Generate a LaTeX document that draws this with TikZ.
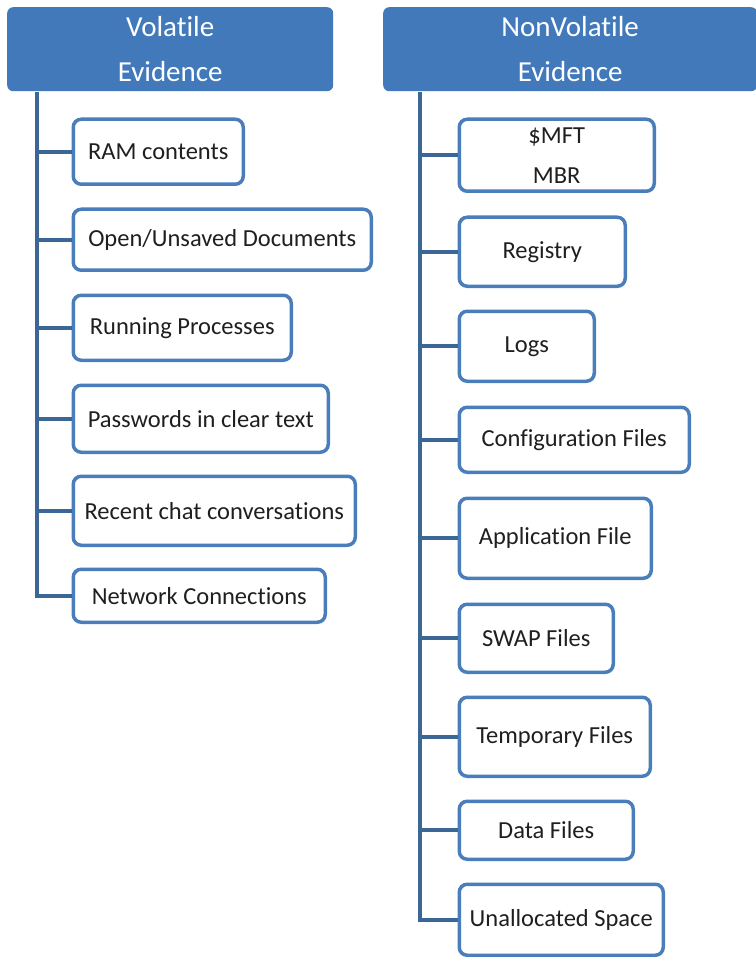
\documentclass[tikz,border=0pt]{standalone}
\usepackage{fontspec}
\setmainfont{Carlito}[Ligatures=NoCommon]
\definecolor{hdrblue}{HTML}{4279BA}
\definecolor{boxline}{HTML}{4A7EBB}
\definecolor{trunkblue}{HTML}{3A6796}
\definecolor{txt}{HTML}{1F1F1F}
\begin{document}
\begin{tikzpicture}[x=1pt,y=-1pt,
  header/.style={fill=hdrblue, rounded corners=6pt, text=white, inner sep=0pt,
    font=\fontsize{29}{45}\selectfont, align=center, anchor=north west},
  item/.style={draw=boxline, line width=3.5pt, rounded corners=8pt, fill=white,
    text=txt, inner sep=0pt, font=\fontsize{24.5}{40}\selectfont, align=center,
    anchor=north west},
  trunk/.style={draw=trunkblue, line width=4pt}]
\path[use as bounding box] (0,0) rectangle (755,957);

% column headers
\node[header, minimum width=326pt, minimum height=84pt] (vol) at (7,7) {Volatile\\Evidence};
\node[header, minimum width=374pt, minimum height=84pt] (nonvol) at (383,7) {NonVolatile\\Evidence};

% volatile items
\node[item, minimum width=170pt, minimum height=65pt] (ram)  at (71.5,117.5) {RAM contents};
\node[item, minimum width=298pt, minimum height=61pt] (open) at (71.5,207.5) {Open/Unsaved Documents};
\node[item, minimum width=218pt, minimum height=65pt] (run)  at (71.5,293.5) {Running Processes};
\node[item, minimum width=255pt, minimum height=67pt] (pw)   at (71.5,383.5) {Passwords in clear text};
\node[item, minimum width=282pt, minimum height=69pt] (chat) at (71.5,474.5) {Recent chat conversations};
\node[item, minimum width=252pt, minimum height=53pt] (net)  at (71.5,567.5) {Network Connections};

% nonvolatile items
\node[item, minimum width=195pt, minimum height=72pt] (mft)  at (457.5,117.5) {\$MFT\\MBR};
\node[item, minimum width=166pt, minimum height=69pt] (reg)  at (457.5,215.5) {Registry};
\node[item, minimum width=135pt, minimum height=70pt] (logs) at (457.5,309.5) {Logs};
\node[item, minimum width=230pt, minimum height=65pt] (conf) at (457.5,405.5) {Configuration Files};
\node[item, minimum width=192pt, minimum height=80pt] (app)  at (457.5,496.5) {Application File};
\node[item, minimum width=154pt, minimum height=68pt] (swap) at (457.5,602.5) {SWAP Files};
\node[item, minimum width=191pt, minimum height=79pt] (temp) at (457.5,695.5) {Temporary Files};
\node[item, minimum width=174pt, minimum height=58pt] (data) at (457.5,799.5) {Data Files};
\node[item, minimum width=204pt, minimum height=71pt] (unal) at (457.5,882.5) {Unallocated Space};

% trunks
\coordinate (lt) at (37,92);
\coordinate (rt) at (420,92);
\draw[trunk] (lt) |- (net.west);
\foreach \n in {ram,open,run,pw,chat}
  \draw[trunk] (lt |- \n.west) -- (\n.west);
\draw[trunk] (rt) |- (unal.west);
\foreach \n in {mft,reg,logs,conf,app,swap,temp,data}
  \draw[trunk] (rt |- \n.west) -- (\n.west);
\end{tikzpicture}
\end{document}
